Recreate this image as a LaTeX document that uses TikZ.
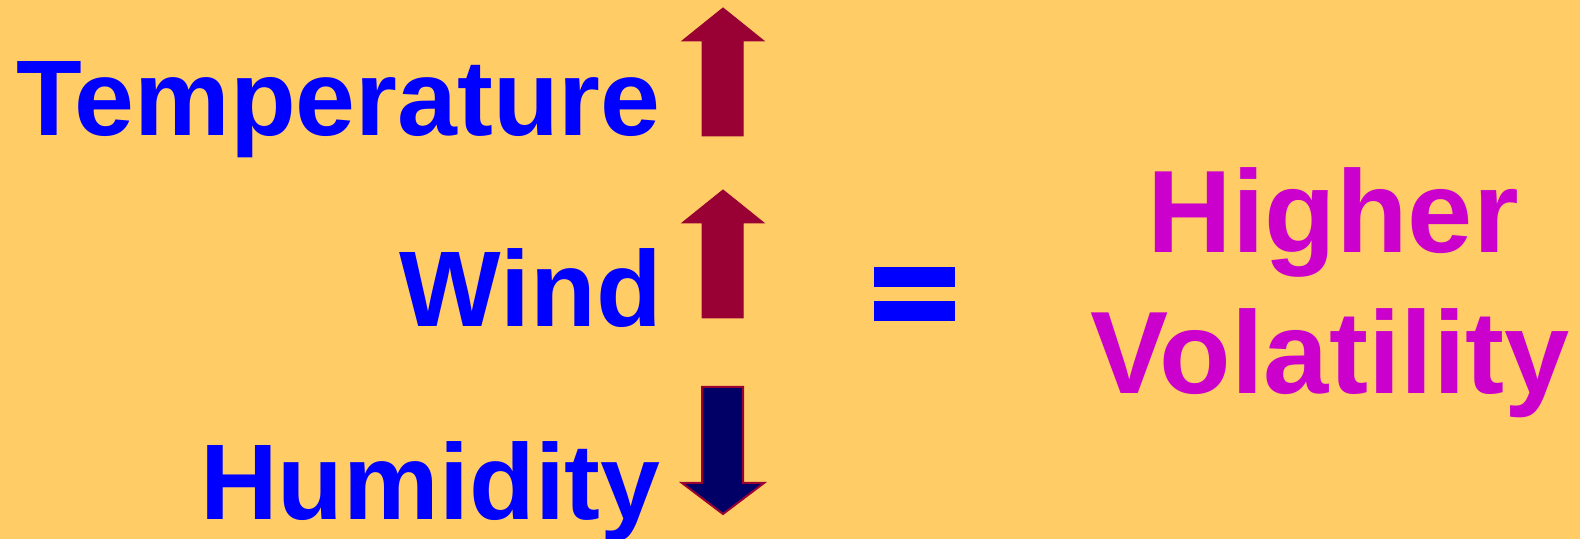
\documentclass[tikz,border=0pt]{standalone}
\usepackage{fontspec}
\setmainfont{Liberation Sans}
\usetikzlibrary{positioning}
\definecolor{bgyellow}{HTML}{FFCC66}
\definecolor{wordblue}{HTML}{0000FF}
\definecolor{resultpink}{HTML}{CC00CC}
\definecolor{uparrow}{HTML}{990033}
\definecolor{downarrow}{HTML}{000066}
\newcommand{\bigword}{\fontsize{53.8}{70.5}\selectfont\bfseries}
\newcommand{\resultword}{\fontsize{58.6}{70.5}\selectfont\bfseries}
\tikzset{
  factor/.style={
    anchor=base east, inner sep=0pt,
    text=wordblue, font=\bigword
  },
  result/.style={
    anchor=base, inner sep=0pt, align=center,
    text=resultpink, font=\resultword
  },
  up arrow/.style={
    fill=uparrow, draw=uparrow, line width=0.5pt
  },
  down arrow/.style={
    fill=downarrow, draw=uparrow, line width=1pt
  },
  equal bar/.style={
    fill=wordblue, draw=none
  },
}

\begin{document}
\begin{tikzpicture}[x=0.5pt, y=-0.5pt]

  % Background
  \fill[bgyellow] (0,0) rectangle (1580,539);
  \useasboundingbox (0,0) rectangle (1580,539);

  % Factors
  \node[factor] (temp) at (661,136) {Temperature};
  \node[factor] (wind) at (662,327) {Wind};
  \node[factor] (humid) at (661,519) {Humidity};

  % Arrows
  \draw[up arrow] (723,8) -- (764,41) -- (743,41) -- (743,136)
    -- (702,136) -- (702,41) -- (682,41) -- cycle;
  \draw[up arrow] (723,190) -- (764,223) -- (743,223) -- (743,318)
    -- (702,318) -- (702,223) -- (682,223) -- cycle;
  \draw[down arrow] (723,514) -- (764,483) -- (743,483) -- (743,387)
    -- (702,387) -- (702,483) -- (682,483) -- cycle;

  % Equals sign
  \fill[equal bar] (874,267) rectangle (955,287);
  \fill[equal bar] (874,301) rectangle (955,321);

  % Result
  \node[result] (higher) at (1333,253) {Higher};
  \node[result] (volat) at (1330,394) {Volatility};

\end{tikzpicture}
\end{document}
